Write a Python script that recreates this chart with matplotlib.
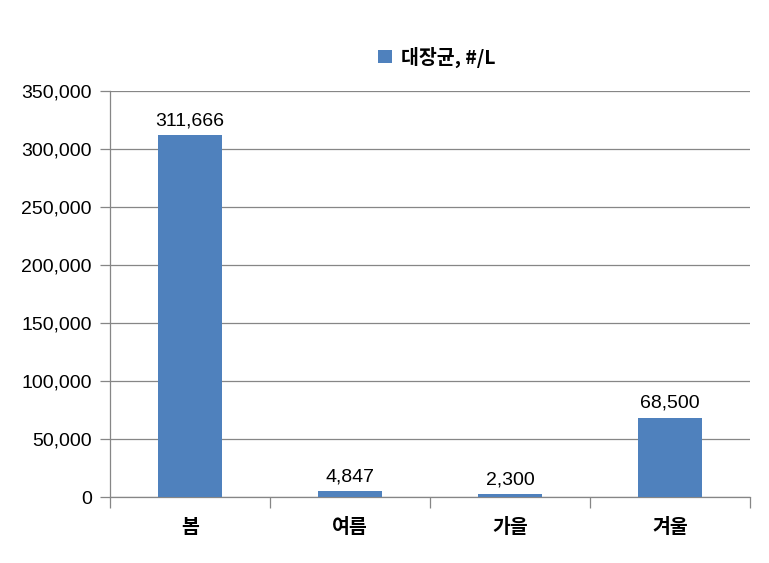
import numpy as np
import matplotlib.pyplot as plt
from matplotlib.ticker import FuncFormatter, FixedLocator

plt.rcParams['font.family'] = ['Liberation Sans', 'Noto Sans CJK KR']

seasons = ['봄', '여름', '가을', '겨울']
counts = [311666, 4847, 2300, 68500]
series_name = '대장균, #/L'

fig = plt.figure(figsize=(7.69, 5.63), dpi=100)
ax = fig.add_axes([110 / 769, 66 / 563, 640 / 769, 406 / 563])

x = np.arange(len(seasons))
bars = ax.bar(x, counts, width=0.4, color='#4F81BD', label=series_name, zorder=3)

for xi, v in zip(x, counts):
    ax.text(xi, v + 5000, f'{v:,}', ha='center', va='bottom', fontsize=14)

ax.set_xlim(-0.5, len(seasons) - 0.5)
ax.set_ylim(0, 350000)
ax.set_yticks(np.arange(0, 350001, 50000))
ax.yaxis.set_major_formatter(FuncFormatter(lambda v, p: f'{int(v):,}'))
ax.grid(axis='y', color='#868686', linewidth=0.9, zorder=0)

ax.set_xticks(x)
ax.set_xticklabels(seasons, fontsize=14, fontweight='bold', family=['Noto Sans CJK KR'])
ax.xaxis.set_minor_locator(FixedLocator(np.arange(-0.5, len(seasons), 1.0)))
ax.tick_params(axis='x', which='major', length=0, pad=15)
ax.tick_params(axis='x', which='minor', length=8, color='#868686', width=0.9)
ax.tick_params(axis='y', length=7, color='#868686', width=0.9, labelsize=14, pad=6)

for s in ['top', 'right']:
    ax.spines[s].set_visible(False)
for s in ['left', 'bottom']:
    ax.spines[s].set_color('#868686')
    ax.spines[s].set_linewidth(0.9)

leg = fig.legend(loc='center', bbox_to_anchor=(437 / 769, 1 - 57 / 563), frameon=False,
                 handlelength=0.7, handleheight=0.7, handletextpad=0.5,
                 prop={'family': ['Noto Sans CJK KR'], 'size': 14, 'weight': 'bold'})

fig.savefig('out.png', dpi=100)
